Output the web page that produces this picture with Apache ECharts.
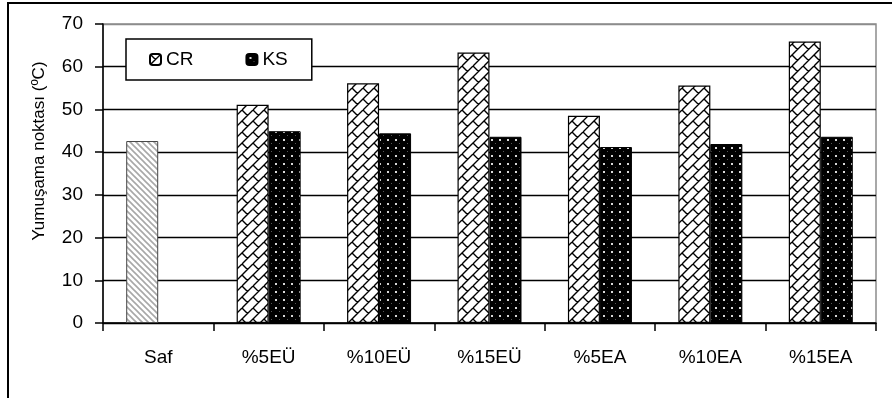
<!DOCTYPE html>
<html>
<head>
<meta charset="utf-8">
<script src="https://cdn.jsdelivr.net/npm/echarts@6/dist/echarts.min.js"></script>
<style>
  html, body { margin: 0; padding: 0; background: #fff; }
  #chart { width: 892px; height: 398px; }
</style>
</head>
<body>
<div id="chart"></div>
<script>
// Softening point of bitumen samples
const categories = ['Saf', '%5EÜ', '%10EÜ', '%15EÜ', '%5EA', '%10EA', '%15EA'];
const crValues = [42.6, 51.1, 56.1, 63.3, 48.5, 55.6, 65.9];
const ksValues = [null, 44.9, 44.4, 43.6, 41.2, 41.9, 43.6];
const yTicks = { min: 0, max: 70, interval: 10 };
const yTitle = 'Yumuşama noktası (ºC)';
const FONT = '"Liberation Sans", Arial, sans-serif';

function makeTile(size, draw) {
  const c = document.createElement('canvas');
  c.width = size; c.height = size;
  const g = c.getContext('2d');
  draw(g, size);
  return { image: c, repeat: 'repeat' };
}

// brick-like diagonal weave: "/" rails with staggered "\" joints
const weave = makeTile(22, (g, s) => {
  const d = s / 2;
  g.fillStyle = '#fff'; g.fillRect(0, 0, s, s);
  g.strokeStyle = '#000'; g.lineWidth = 1.4;
  g.beginPath();
  for (let c = -2 * s; c <= 3 * s; c += d) {
    g.moveTo(c + s, -s); g.lineTo(c - s, s);           // rail x + y = c
    const band = Math.round(c / d);
    const shift = (band % 2 === 0) ? 0 : d;
    for (let k = -3 * s + shift; k <= 3 * s; k += 2 * d) {
      g.moveTo((c + k) / 2, (c - k) / 2);
      g.lineTo((c + d + k) / 2, (c + d - k) / 2);
    }
  }
  g.stroke();
});

// dark dotted fill
const dots = makeTile(8, (g, s) => {
  g.fillStyle = '#000'; g.fillRect(0, 0, s, s);
  g.fillStyle = '#d8d8d8'; g.fillRect(3, 3, 2, 2);
  g.fillStyle = '#555'; g.fillRect(7, 7, 1, 1);
});

// light downward diagonal hatch
const hatch = makeTile(6, (g, s) => {
  g.fillStyle = '#fff'; g.fillRect(0, 0, s, s);
  g.strokeStyle = '#a8a8a8'; g.lineWidth = 1.6;
  g.beginPath();
  for (const o of [-s, 0, s]) { g.moveTo(o - 1, -1); g.lineTo(o + s + 1, s + 1); }
  g.stroke();
});

const crData = crValues.map((v, i) => i === 0
  ? { value: v, itemStyle: { color: hatch, borderColor: '#444', borderWidth: 1 } }
  : v);

const chart = echarts.init(document.getElementById('chart'), null, { renderer: 'canvas' });
chart.setOption({
  animation: false,
  backgroundColor: '#fff',
  textStyle: { fontFamily: FONT },
  grid: { left: 103, right: 16, top: 24, bottom: 75, show: true, borderColor: '#8c8c8c', borderWidth: 1.5 },
  legend: {
    left: 126, top: 39,
    data: ['CR', 'KS'],
    backgroundColor: '#fff', borderColor: '#000', borderWidth: 1.5,
    padding: [11, 24, 11, 23],
    itemGap: 52, itemWidth: 11, itemHeight: 11,
    textStyle: { fontSize: 19, color: '#000', fontFamily: FONT }
  },
  xAxis: {
    type: 'category', data: categories,
    axisLine: { lineStyle: { color: '#000', width: 1.5 } },
    axisTick: { show: true, length: 8, lineStyle: { color: '#000', width: 1.5 } },
    axisLabel: { fontSize: 19, color: '#000', margin: 25, fontFamily: FONT }
  },
  yAxis: {
    type: 'value', min: yTicks.min, max: yTicks.max, interval: yTicks.interval,
    axisLine: { show: true, lineStyle: { color: '#000', width: 1.5 } },
    axisTick: { show: true, length: 8, lineStyle: { color: '#000', width: 1.5 } },
    axisLabel: { fontSize: 19, color: '#000', margin: 20, fontFamily: FONT },
    splitLine: { show: true, lineStyle: { color: ['#000', '#000', '#000', '#000', '#000', '#000', '#000', '#8c8c8c'], width: 1.3 } }
  },
  graphic: [
    { type: 'rect', z: 100, silent: true, shape: { x: 8, y: 3, width: 920, height: 420 },
      style: { fill: 'none', stroke: '#000', lineWidth: 2 } },
    { type: 'text', z: 100, x: 39, y: 151, rotation: Math.PI / 2,
      style: { text: yTitle, font: '17px ' + FONT, fill: '#000', align: 'center', verticalAlign: 'middle' } }
  ],
  series: [
    { name: 'CR', type: 'bar', data: crData, barWidth: 32, barGap: '0%',
      itemStyle: { color: weave, borderColor: '#000', borderWidth: 1.2 } },
    { name: 'KS', type: 'bar', data: ksValues, barWidth: 32,
      itemStyle: { color: dots, borderColor: '#000', borderWidth: 1 } }
  ]
});
</script>
</body>
</html>
